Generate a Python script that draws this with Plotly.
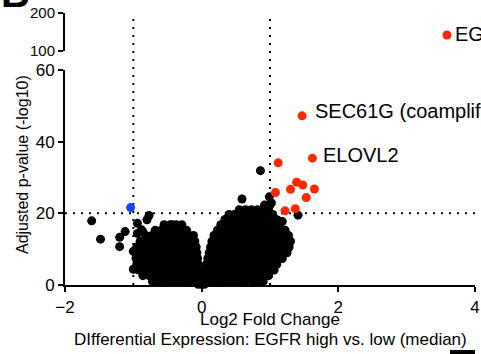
import plotly.graph_objects as go

# ---- data ----
cloud_levels = [0.2, 1.0, 2.6, 4.2, 5.8, 7.4, 9.0, 10.6, 12.2, 13.8, 15.3, 16.8, 18.3, 19.7, 21.0, 22.3]
cloud_rows = [
    [-0.05, 0.0, 0.04],
    [-0.72, -0.63, -0.54, -0.45, -0.36, -0.27, -0.18, -0.10, -0.02, 0.05, 0.13, 0.22, 0.30, 0.39, 0.47, 0.56, 0.64, 0.73, 0.81, 0.90],
    [-0.86, -0.77, -0.68, -0.59, -0.50, -0.41, -0.33, -0.24, -0.16, -0.08, -0.02, 0.04, 0.12, 0.21, 0.29, 0.38, 0.46, 0.55, 0.63, 0.72, 0.80, 0.89, 0.98],
    [-0.92, -0.83, -0.74, -0.65, -0.56, -0.47, -0.39, -0.30, -0.22, -0.13, -0.04, 0.05, 0.14, 0.23, 0.31, 0.40, 0.48, 0.57, 0.65, 0.74, 0.82, 0.91, 0.99, 1.06],
    [-0.95, -0.86, -0.77, -0.68, -0.59, -0.50, -0.41, -0.32, -0.23, -0.14, -0.05, 0.07, 0.16, 0.25, 0.33, 0.42, 0.50, 0.59, 0.67, 0.76, 0.84, 0.93, 1.01, 1.10],
    [-0.96, -0.87, -0.78, -0.69, -0.60, -0.51, -0.42, -0.33, -0.24, -0.15, -0.06, 0.09, 0.18, 0.26, 0.35, 0.43, 0.52, 0.60, 0.69, 0.77, 0.86, 0.94, 1.03, 1.11, 1.18],
    [-0.97, -0.88, -0.79, -0.70, -0.61, -0.52, -0.43, -0.34, -0.25, -0.16, -0.07, 0.11, 0.20, 0.28, 0.37, 0.45, 0.54, 0.62, 0.71, 0.79, 0.88, 0.96, 1.05, 1.13, 1.20, 1.25],
    [-0.95, -0.86, -0.77, -0.68, -0.59, -0.50, -0.41, -0.32, -0.23, -0.14, -0.08, 0.13, 0.22, 0.30, 0.39, 0.47, 0.56, 0.64, 0.73, 0.81, 0.90, 0.98, 1.07, 1.15, 1.23, 1.28],
    [-0.90, -0.81, -0.72, -0.63, -0.54, -0.45, -0.36, -0.27, -0.18, -0.10, 0.15, 0.24, 0.32, 0.41, 0.49, 0.58, 0.66, 0.75, 0.83, 0.92, 1.00, 1.09, 1.17, 1.25, 1.30],
    [-0.82, -0.73, -0.64, -0.55, -0.46, -0.37, -0.28, -0.19, -0.12, 0.18, 0.27, 0.35, 0.44, 0.52, 0.61, 0.69, 0.78, 0.86, 0.95, 1.03, 1.12, 1.20, 1.27],
    [-0.68, -0.59, -0.50, -0.41, -0.32, -0.22, 0.23, 0.31, 0.40, 0.48, 0.57, 0.65, 0.74, 0.82, 0.91, 0.99, 1.08, 1.16, 1.22],
    [-0.55, -0.46, -0.37, -0.29, 0.28, 0.36, 0.45, 0.53, 0.62, 0.70, 0.79, 0.87, 0.96, 1.04, 1.13],
    [0.34, 0.42, 0.51, 0.59, 0.68, 0.76, 0.85, 0.93, 1.02, 1.09],
    [0.40, 0.48, 0.57, 0.65, 0.74, 0.82, 0.91, 0.99, 1.04],
    [0.55, 0.64, 0.73, 0.82, 0.90, 0.98],
    [0.92, 1.00],
]

black_x = [-1.61, -1.48, -1.20, -1.20, -1.12, -0.94, -0.77, -0.80, -1.00, -1.00, -0.88, -0.86, -0.94, -0.88, -0.43, 0.59, 0.86, 1.41, 0.99, 1.02, 1.11, 1.18]
black_y = [17.9, 12.8, 13.3, 10.7, 14.9, 17.2, 19.4, 18.2, 4.4, 9.4, 4.2, 14.9, 14.4, 15.4, 16.8, 24.0, 31.9, 19.5, 24.6, 22.9, 18.1, 17.7]

red_x = [1.12, 1.39, 1.48, 1.30, 1.65, 1.08, 1.53, 1.22, 1.37, 1.47, 1.62]
red_y = [34.1, 28.7, 27.9, 26.7, 26.8, 25.8, 24.4, 20.7, 21.3, 47.2, 35.4]

blue_x = [-1.04]
blue_y = [21.6]

egfr_x = [3.59]
egfr_y = [142]

label_text = ["SEC61G (coamplified)", "ELOVL2", "EGFR"]
label_x = [1.63, 1.74, 3.68]
label_y = [48.6, 36.4, 144.5]
label_axis = ["y", "y", "y2"]

x_ticks = [-2, 0, 2, 4]
y_ticks_low = [0, 20, 40, 60]
y_ticks_high = [100, 200]

RED = "rgb(255,40,0)"
BLUE = "rgb(20,70,255)"
FONT = "Arial, Liberation Sans, sans-serif"

cx, cy = [], []
for lvl, row in zip(cloud_levels, cloud_rows):
    for v in row:
        cx.append(v)
        cy.append(lvl)

fig = go.Figure()
mk = dict(size=9, line=dict(width=0))
fig.add_trace(go.Scatter(x=cx, y=cy, mode="markers", marker=dict(color="black", **mk), cliponaxis=False, hoverinfo="skip"))
fig.add_trace(go.Scatter(x=black_x, y=black_y, mode="markers", marker=dict(color="black", **mk), cliponaxis=False))
fig.add_trace(go.Scatter(x=red_x, y=red_y, mode="markers", marker=dict(color=RED, **mk), cliponaxis=False))
fig.add_trace(go.Scatter(x=blue_x, y=blue_y, mode="markers", marker=dict(color=BLUE, **mk), cliponaxis=False))
fig.add_trace(go.Scatter(x=egfr_x, y=egfr_y, mode="markers", marker=dict(color=RED, **mk), xaxis="x", yaxis="y2", cliponaxis=False))

low_top = 215 / 272
high_bot = 234 / 272

axis_common = dict(showline=True, linecolor="black", linewidth=2, ticks="outside", ticklen=5,
                   tickwidth=2, tickcolor="black", showgrid=False, zeroline=False, automargin=False)

fig.update_layout(
    width=481, height=354,
    margin=dict(l=65, r=6, t=13, b=69, autoexpand=False),
    paper_bgcolor="white", plot_bgcolor="white",
    showlegend=False,
    xaxis=dict(range=[-2, 4], tickvals=x_ticks, anchor="y", ticklabelstandoff=1,
               tickfont=dict(family=FONT, size=17, color="black"), **axis_common),
    yaxis=dict(range=[0, 60], tickvals=y_ticks_low, domain=[0, low_top], anchor="x",
               tickfont=dict(family=FONT, size=17, color="black"), **axis_common),
    yaxis2=dict(range=[100, 200], tickvals=y_ticks_high, domain=[high_bot, 1], anchor="x",
                tickfont=dict(family=FONT, size=15, color="black"), **axis_common),
)

dot = dict(color="black", width=2, dash="2px,6px")
fig.add_shape(type="line", xref="x", yref="paper", x0=-1, x1=-1, y0=0, y1=1, line=dot, layer="below")
fig.add_shape(type="line", xref="x", yref="paper", x0=1, x1=1, y0=0, y1=1, line=dot, layer="below")
fig.add_shape(type="line", xref="paper", yref="y", x0=0, x1=1, y0=20, y1=20, line=dot, layer="below")

for t, x, y, ax in zip(label_text, label_x, label_y, label_axis):
    fig.add_annotation(text=t, x=x, y=y, xref="x", yref=ax, xanchor="left", yanchor="middle",
                       showarrow=False, font=dict(family=FONT, size=20, color="black"))

fig.add_annotation(text="Log2 Fold Change", xref="paper", yref="paper", x=0.5, y=0, yshift=-34,
                   xanchor="center", yanchor="middle", showarrow=False,
                   font=dict(family=FONT, size=17, color="black"))
fig.add_annotation(text="DIfferential Expression: EGFR high vs. low (median)", xref="paper", yref="paper",
                   x=0.5, y=0, yshift=-54, xanchor="center", yanchor="middle", showarrow=False,
                   font=dict(family=FONT, size=17, color="black"))
fig.add_annotation(text="Adjusted p-value (-log10)", xref="paper", yref="paper", x=0, xshift=-43,
                   y=(285 - 165) / 272, textangle=-90, xanchor="center", yanchor="middle", showarrow=False,
                   font=dict(family=FONT, size=16, color="black"))
fig.add_annotation(text="<b>B</b>", xref="paper", yref="paper", x=0, xshift=-66, y=1, yshift=-4,
                   xanchor="left", yanchor="bottom", showarrow=False,
                   font=dict(family=FONT, size=40, color="black"))
fig.add_shape(type="rect", xref="paper", yref="paper", x0=(450 - 65) / 410, x1=(475 - 65) / 410,
              y0=(285 - 356) / 272, y1=(285 - 350) / 272, fillcolor="black", line=dict(width=0))

fig.write_html("out.html", config={"displayModeBar": False},
               post_script="document.body.style.margin='0px';")
